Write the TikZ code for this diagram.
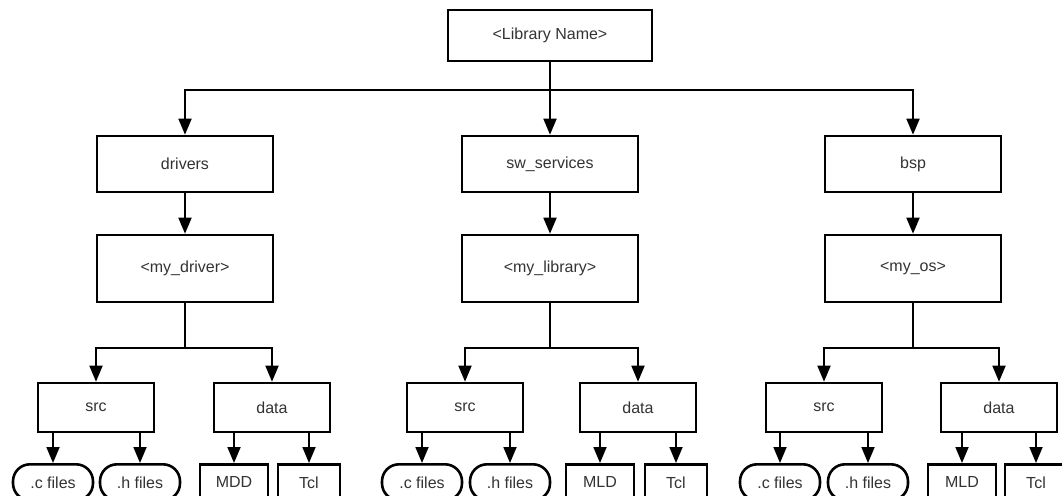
\documentclass[tikz,border=0pt]{standalone}
\usepackage{fontspec}
\setmainfont{Liberation Sans}
\usetikzlibrary{arrows.meta}
\definecolor{txt}{HTML}{333333}
\tikzset{
  box/.style={draw=black, line width=2.6pt, fill=white, inner sep=0pt, text=txt,
    font=\fontsize{16}{19}\selectfont},
  leafbox/.style={box, minimum height=36pt, anchor=north},
  oval/.style={leafbox, rounded corners=17pt},
  conn/.style={draw=black, line width=1.8pt},
  arr/.style={conn, -{Triangle[length=16pt,width=13pt]}},
}
\begin{document}
\begin{tikzpicture}[x=1pt,y=-1pt]
\useasboundingbox (0,0) rectangle (1062,495);
\clip (0,0) rectangle (1062,495);
\fill[white] (0,0) rectangle (1062,495);

% top
\node[box, minimum width=204pt, minimum height=51pt] (top) at (550,35.5) {<Library Name>};
\coordinate (j0) at (550,90);

% level 1
\node[box, minimum width=176pt, minimum height=56pt] (drivers) at (185,164) {drivers};
\node[box, minimum width=176pt, minimum height=56pt] (sw) at (550,164) {sw\_services};
\node[box, minimum width=176pt, minimum height=56pt] (bsp) at (913,164) {bsp};

% level 2
\node[box, minimum width=176pt, minimum height=67pt] (mydrv) at (185,268.5) {<my\_driver>};
\node[box, minimum width=176pt, minimum height=67pt] (mylib) at (550,268.5) {<my\_library>};
\node[box, minimum width=176pt, minimum height=67pt] (myos) at (913,268.5) {<my\_os>};

\coordinate (j1) at (185,348);
\coordinate (j2) at (550,348);
\coordinate (j3) at (913,348);

% level 3
\node[box, minimum width=116pt, minimum height=49pt] (srcA) at (96,407.5) {src};
\node[box, minimum width=116pt, minimum height=49pt] (dataA) at (272,407.5) {data};
\node[box, minimum width=116pt, minimum height=49pt] (srcB) at (465,407.5) {src};
\node[box, minimum width=116pt, minimum height=49pt] (dataB) at (638,407.5) {data};
\node[box, minimum width=116pt, minimum height=49pt] (srcC) at (824,407.5) {src};
\node[box, minimum width=116pt, minimum height=49pt] (dataC) at (999,407.5) {data};

% leaves
\node[oval, minimum width=80pt] (cA) at (53,463) {.c files};
\node[oval, minimum width=80pt] (hA) at (140,463) {.h files};
\node[leafbox, minimum width=68pt] (mddA) at (234,463) {MDD};
\node[leafbox, minimum width=62pt] (tclA) at (309,463) {Tcl};

\node[oval, minimum width=80pt] (cB) at (422,463) {.c files};
\node[oval, minimum width=80pt] (hB) at (510,463) {.h files};
\node[leafbox, minimum width=68pt] (mldB) at (600,463) {MLD};
\node[leafbox, minimum width=62pt] (tclB) at (676,463) {Tcl};

\node[oval, minimum width=80pt] (cC) at (780,463) {.c files};
\node[oval, minimum width=80pt] (hC) at (868,463) {.h files};
\node[leafbox, minimum width=68pt] (mldC) at (962,463) {MLD};
\node[leafbox, minimum width=62pt] (tclC) at (1036,463) {Tcl};

% connectors top
\draw[conn] (top.south) -- (j0);
\draw[arr] (j0) -| (drivers.north);
\draw[arr] (j0) -- (sw.north);
\draw[arr] (j0) -| (bsp.north);

\draw[arr] (drivers.south) -- (mydrv.north);
\draw[arr] (sw.south) -- (mylib.north);
\draw[arr] (bsp.south) -- (myos.north);

\draw[conn] (mydrv.south) -- (j1);
\draw[arr] (j1) -| (srcA.north);
\draw[arr] (j1) -| (dataA.north);
\draw[conn] (mylib.south) -- (j2);
\draw[arr] (j2) -| (srcB.north);
\draw[arr] (j2) -| (dataB.north);
\draw[conn] (myos.south) -- (j3);
\draw[arr] (j3) -| (srcC.north);
\draw[arr] (j3) -| (dataC.north);

% leaf connectors
\foreach \p/\c in {srcA/cA, srcA/hA, dataA/mddA, dataA/tclA,
                   srcB/cB, srcB/hB, dataB/mldB, dataB/tclB,
                   srcC/cC, srcC/hC, dataC/mldC, dataC/tclC}{
  \draw[arr] (\c.north |- \p.south) -- (\c.north);
}
\end{tikzpicture}
\end{document}
